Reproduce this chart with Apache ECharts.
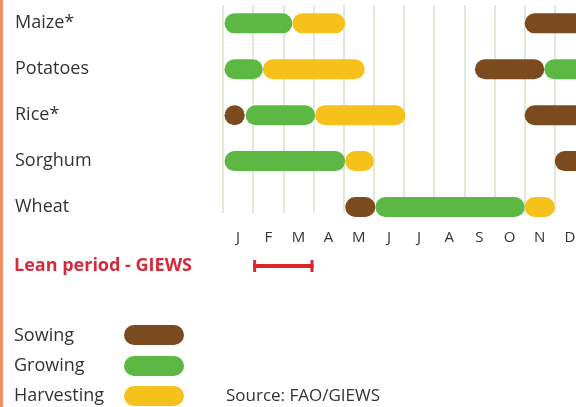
<!DOCTYPE html>
<html>
<head>
<meta charset="utf-8">
<script src="https://cdn.jsdelivr.net/npm/echarts@6/dist/echarts.min.js"></script>
<style>
  html, body { margin: 0; padding: 0; background: #fff; }
  #chart { width: 576px; height: 407px; }
</style>
</head>
<body>
<div id="chart"></div>
<script>
var crops = ['Maize*', 'Potatoes', 'Rice*', 'Sorghum', 'Wheat'];
var months = ['J', 'F', 'M', 'A', 'M', 'J', 'J', 'A', 'S', 'O', 'N', 'D'];

// [crop index, start month, end month] (0 = start of January, 12 = end of December)
var sowing = [[0, 10, 12], [1, 8.35, 10.65], [2, 0.05, 0.72], [2, 10, 12], [3, 11, 12], [4, 4.05, 5.05]];
var growing = [[0, 0.05, 2.3], [1, 0.05, 1.32], [1, 10.65, 12], [2, 0.75, 3.05], [3, 0.05, 4.05], [4, 5.05, 10]];
var harvesting = [[0, 2.3, 4.05], [1, 1.32, 4.7], [2, 3.05, 6.05], [3, 4.05, 5.0], [4, 10, 11]];

var leanPeriod = [[1, 3]];

var colors = { sowing: '#7b4a1f', growing: '#5db843', harvesting: '#f7c11b' };
var font = '"Open Sans", sans-serif';

var chart = echarts.init(document.getElementById('chart'));

function capsule(params, api) {
    var row = api.value(0);
    var p0 = api.coord([api.value(1), row]);
    var p1 = api.coord([api.value(2), row]);
    var h = 20;
    return {
        type: 'rect',
        shape: { x: p0[0], y: p0[1] - h / 2, width: p1[0] - p0[0], height: h, r: h / 2 },
        style: { fill: api.visual('color') }
    };
}

function phaseSeries(name, data) {
    return {
        name: name,
        type: 'custom',
        renderItem: capsule,
        itemStyle: { color: colors[name.toLowerCase()] },
        encode: { x: [1, 2], y: 0 },
        data: data,
        silent: true
    };
}

function label(text, x, y, size, color, weight) {
    return {
        type: 'text',
        x: x,
        y: y,
        style: {
            text: text,
            fill: color,
            font: (weight || 'normal') + ' ' + size + 'px ' + font,
            verticalAlign: 'middle'
        }
    };
}

var option = {
    animation: false,
    grid: { left: 223, top: 5, width: 362, height: 208, outerBoundsMode: 'none', containLabel: false },
    xAxis: {
        type: 'value',
        min: 0,
        max: 12,
        interval: 1,
        axisLine: { show: false },
        axisTick: { show: false },
        splitLine: { show: true, lineStyle: { color: '#e1ead8', width: 2 } },
        axisLabel: {
            customValues: months.map(function (m, i) { return i + 0.5; }),
            formatter: function (v) { return months[Math.floor(v)]; },
            margin: 17,
            color: '#333',
            fontSize: 15,
            fontFamily: font
        }
    },
    yAxis: {
        type: 'value',
        inverse: true,
        min: -0.4,
        max: 4.13,
        axisLine: { show: false },
        axisTick: { show: false },
        splitLine: { show: false },
        axisLabel: {
            customValues: [0, 1, 2, 3, 4],
            formatter: function (v) { return crops[v]; },
            align: 'left',
            margin: 208,
            color: '#333',
            fontSize: 18,
            fontFamily: font
        }
    },
    graphic: [
        { type: 'rect', shape: { x: 0, y: 0, width: 3, height: 407 }, style: { fill: '#f08d62' } },
        label('Lean period - GIEWS', 14, 266, 18, '#d52a3c', 'bold'),
        label('Sowing', 14, 336, 18, '#333'),
        label('Growing', 14, 366, 18, '#333'),
        label('Harvesting', 14, 396, 18, '#333'),
        { type: 'rect', shape: { x: 124, y: 325, width: 60, height: 20, r: 10 }, style: { fill: colors.sowing } },
        { type: 'rect', shape: { x: 124, y: 356, width: 60, height: 20, r: 10 }, style: { fill: colors.growing } },
        { type: 'rect', shape: { x: 124, y: 386, width: 60, height: 20, r: 10 }, style: { fill: colors.harvesting } },
        label('Source: FAO/GIEWS', 226, 396, 17, '#333')
    ],
    series: [
        phaseSeries('Sowing', sowing),
        phaseSeries('Growing', growing),
        phaseSeries('Harvesting', harvesting),
        {
            name: 'Lean period',
            type: 'custom',
            silent: true,
            clip: false,
            encode: { x: [0, 1] },
            data: leanPeriod,
            renderItem: function (params, api) {
                var base = api.coord([0, 4])[1] + 59;
                var x0 = api.coord([api.value(0), 4])[0];
                var x1 = api.coord([api.value(1), 4])[0];
                var red = '#d9262f';
                return {
                    type: 'group',
                    children: [
                        { type: 'line', shape: { x1: x0, y1: base, x2: x1, y2: base }, style: { stroke: red, lineWidth: 4 } },
                        { type: 'line', shape: { x1: x0 + 1.5, y1: base - 6, x2: x0 + 1.5, y2: base + 6 }, style: { stroke: red, lineWidth: 3 } },
                        { type: 'line', shape: { x1: x1 - 1.5, y1: base - 6, x2: x1 - 1.5, y2: base + 6 }, style: { stroke: red, lineWidth: 3 } }
                    ]
                };
            }
        }
    ]
};

chart.setOption(option);
</script>
</body>
</html>
